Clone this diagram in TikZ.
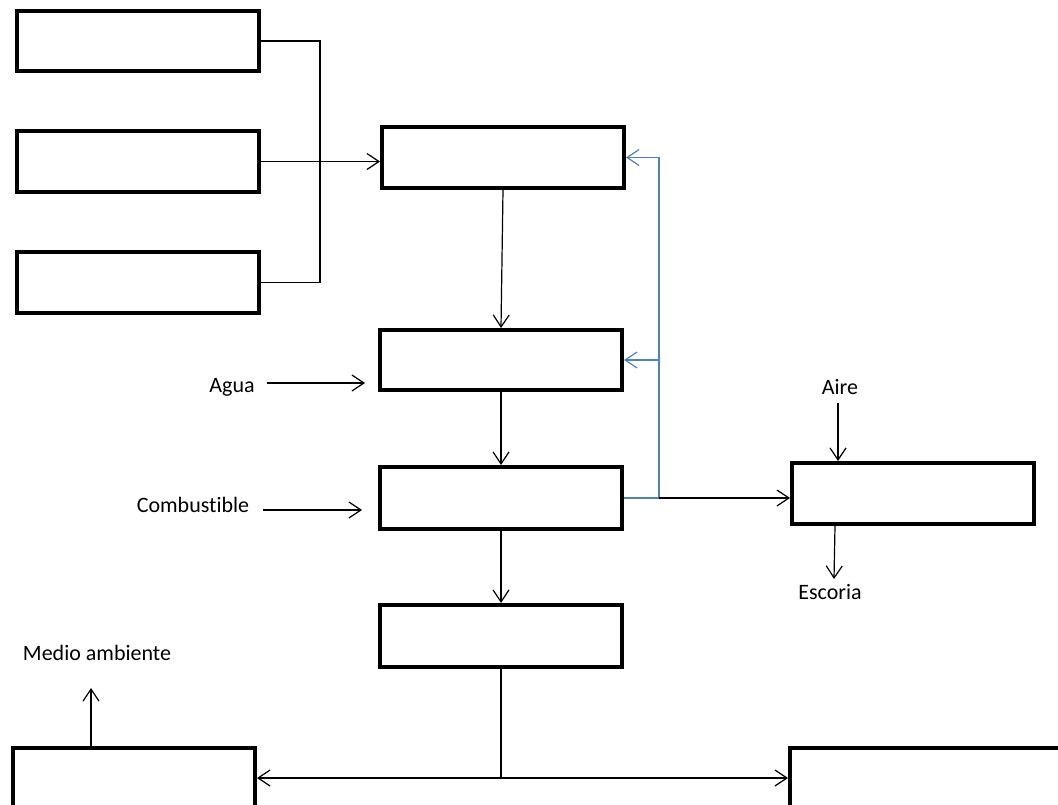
\documentclass[tikz,border=0pt]{standalone}
\usepackage{fontspec}
\setmainfont{Carlito}[Ligatures=NoCommon]
\usetikzlibrary{arrows.meta}
\definecolor{flowblue}{HTML}{4F81BD}
\begin{document}
\begin{tikzpicture}[x=1pt,y=-1pt,
  stage/.style={draw,line width=4pt,minimum width=242pt,minimum height=61pt,inner sep=0pt,fill=white},
  link/.style={line width=1.2pt},
  flow/.style={link,-{Straight Barb[length=12pt,width=16pt]}},
  recycle/.style={flow,draw=flowblue},
  tag/.style={font=\fontsize{22pt}{26pt}\selectfont,inner sep=0pt}]
\clip (0,0) rectangle (1058,805);
\fill[white] (0,0) rectangle (1058,805);

% raw material inputs
\node[stage,minimum height=60pt] (L1) at (138,41) {};
\node[stage] (L2) at (138,161.5) {};
\node[stage] (L3) at (138,282.5) {};

% main process line
\node[stage] (C1) at (503,157.5) {};
\node[stage,minimum height=60pt] (C2) at (501,360) {};
\node[stage,minimum height=62pt] (C3) at (501,498) {};
\node[stage,minimum height=62pt] (C4) at (501,636) {};

% side unit and outlets
\node[stage] (R1) at (913,493.5) {};
\node[stage,minimum height=60pt] (BL) at (134,778) {};
\node[stage,minimum width=300pt,minimum height=60pt] (BR) at (940,778) {};

% labels
\node[tag] (agua) at (232,387) {Agua};
\node[tag] (comb) at (193,505) {Combustible};
\node[tag] (aire) at (840,387) {Aire};
\node[tag] (esc) at (830,592) {Escoria};
\node[tag] (medio) at (97,653) {Medio ambiente};

% helper points
\coordinate (bus) at (320,0);
\coordinate (ret) at (659,0);
\coordinate (split) at (501,778);
\coordinate (aguastart) at (267,383);
\coordinate (aguaend) at (365,383);
\coordinate (combstart) at (263,510);
\coordinate (combend) at (362,510);
\coordinate (airestart) at (838,403);
\coordinate (escend) at (834,579);
\coordinate (medioend) at (91,688);

% feed collector
\draw[link] (L1.east) -- (L1.east -| bus) -- (L3.east -| bus) -- (L3.east);
\draw[flow] (L2.east) -- (L2.east -| C1.west);

% main sequence
\draw[flow] (C1.south) -- (C2.north);
\draw[flow] (C2.south) -- (C3.north);
\draw[flow] (C3.south) -- (C4.north);

% external inputs
\draw[flow] (aguastart) -- (aguaend);
\draw[flow] (combstart) -- (combend);

% recycle loop
\draw[link,draw=flowblue] (C3.east) -- (C3.east -| ret) -- (C1.east -| ret);
\draw[recycle] (C1.east -| ret) -- (C1.east);
\draw[recycle] (C2.east -| ret) -- (C2.east);
\draw[flow] (C3.east -| ret) -- (C3.east -| R1.west);

% side unit streams
\draw[flow] (airestart) -- (R1.north -| airestart);
\draw[flow] (R1.south -| 835,0) -- (escend);

% split to the outlets
\draw[link] (C4.south) -- (split);
\draw[flow] (split) -- (BL.east);
\draw[flow] (split) -- (BR.west);
\draw[flow] (BL.north -| medioend) -- (medioend);
\end{tikzpicture}
\end{document}
